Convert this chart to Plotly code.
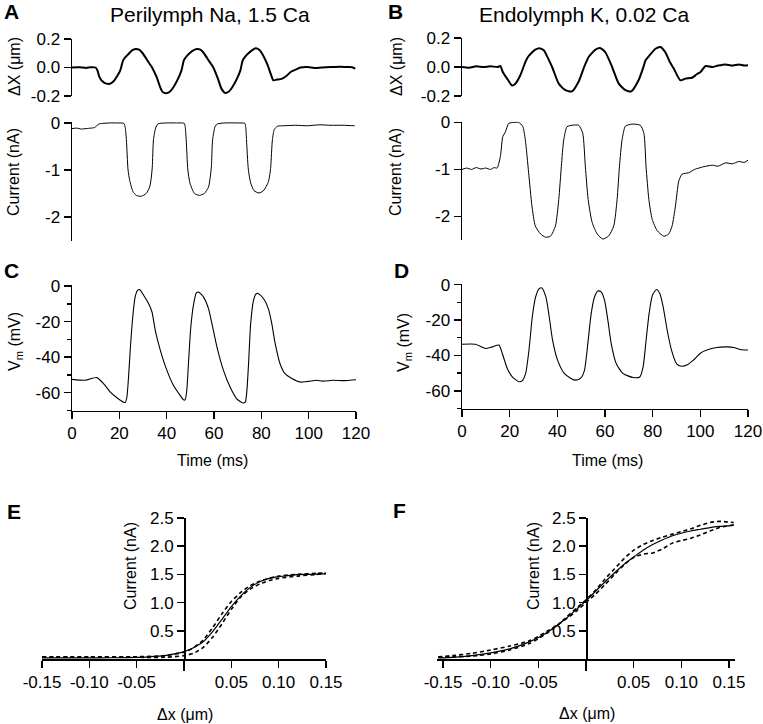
import plotly.graph_objects as go

W, H = 763, 724

# ---------------- DATA ----------------
# Panel A: Perilymph Na, 1.5 Ca
a_dx_t = [0, 3, 6, 8, 10, 10.8, 11.5, 12.5, 13.2, 14, 15.5, 16.5, 18, 19.4, 20.5, 21.7, 22.5, 24, 25.5, 27,
          28.5, 30, 32, 34, 36, 37.5, 38.5, 40, 41.5, 43, 45, 46.5, 47.5, 49, 51, 53, 54.5, 56, 58, 60, 62,
          63.5, 65, 66.5, 68, 70, 71.5, 72.5, 74, 76, 78, 79.5, 81, 83, 84.5, 85.5, 87, 89, 91, 93, 95, 97,
          100, 103, 106, 110, 114, 117, 119, 120.3]
a_dx_v = [0.0, 0.002, -0.003, 0.002, 0.0, -0.02, -0.06, -0.09, -0.1, -0.11, -0.115, -0.112, -0.09, -0.055,
          -0.02, 0.05, 0.07, 0.095, 0.12, 0.13, 0.125, 0.1, 0.05, 0.0, -0.07, -0.14, -0.172, -0.18, -0.17,
          -0.14, -0.08, -0.02, 0.05, 0.085, 0.115, 0.13, 0.125, 0.1, 0.05, 0.0, -0.08, -0.15, -0.178, -0.17,
          -0.14, -0.08, -0.02, 0.05, 0.085, 0.115, 0.135, 0.125, 0.09, 0.02, -0.05, -0.09, -0.085, -0.08,
          -0.06, -0.03, -0.015, 0.0, 0.003, -0.003, 0.0, 0.003, 0.005, 0.003, 0.002, -0.008]

a_i_t = [0, 2, 4, 6, 8, 9.5, 10.5, 11.5, 13, 16, 19, 22, 22.6, 23.1, 23.8, 24.5, 25.9, 27.3, 29.4, 31.5,
         33.0, 33.7, 34.1, 34.6, 35.5, 36.5, 40, 44, 47.7, 48.1, 48.5, 49.2, 50.1, 52.0, 54.1, 56.2, 58.0,
         58.7, 59.2, 59.7, 60.8, 61.8, 65, 70, 73.4, 73.8, 74.1, 74.9, 75.9, 77.3, 79.4, 81.5, 83.4, 84.0,
         84.4, 85.1, 85.9, 87.2, 90, 95, 100, 105, 110, 115, 120]
a_i_v = [-0.12, -0.11, -0.13, -0.12, -0.11, -0.1, -0.06, -0.02, -0.01, 0.0, 0.0, -0.01, -0.1, -0.36, -1.0,
         -1.22, -1.46, -1.54, -1.56, -1.5, -1.36, -1.15, -0.93, -0.36, -0.11, -0.02, 0.0, 0.0, -0.01, -0.1,
         -0.36, -1.0, -1.28, -1.5, -1.54, -1.5, -1.36, -1.15, -0.93, -0.36, -0.07, -0.02, 0.0, 0.0, -0.01,
         -0.1, -0.36, -1.0, -1.28, -1.44, -1.49, -1.43, -1.25, -1.1, -0.93, -0.36, -0.14, -0.07, -0.06,
         -0.05, -0.06, -0.04, -0.05, -0.05, -0.06]

# Panel B: Endolymph K, 0.02 Ca
b_dx_t = [0, 3, 6, 9, 12, 15, 16.2, 17.2, 19, 21.1, 22.5, 24.6, 26.7, 27.8, 29.5, 30.9, 32.6, 34.5, 36, 38,
          40.8, 43.6, 46.4, 49.2, 51.5, 52.7, 53.4, 56.3, 58.4, 60.5, 63.3, 66.1, 68.9, 71.4, 74.5, 76.5,
          77.4, 78.5, 81.6, 83.7, 85.8, 87.5, 89.3, 92.1, 94.2, 97, 99, 100.6, 102.7, 105.5, 108, 111.1,
          113.9, 116.7, 119, 121]
b_dx_v = [0.0, -0.005, 0.005, 0.0, 0.005, 0.0, 0.007, -0.035, -0.08, -0.127, -0.115, -0.057, 0.034, 0.069,
          0.1, 0.12, 0.13, 0.115, 0.07, 0.0, -0.115, -0.16, -0.168, -0.1, 0.0, 0.046, 0.069, 0.12, 0.13,
          0.1, 0.0, -0.115, -0.16, -0.168, -0.09, 0.0, 0.046, 0.069, 0.126, 0.138, 0.1, 0.04, -0.011,
          -0.092, -0.08, -0.074, -0.05, -0.034, 0.007, 0.0, 0.01, 0.018, 0.01, 0.018, 0.01, 0.012]

b_i_t = [0, 2, 4, 6, 8, 10, 12, 13.5, 14.8, 16.2, 17.2, 18.3, 19.7, 21.8, 23.9, 25.6, 26.7, 28.1, 29.5,
         30.9, 33.1, 35.2, 37.3, 39.4, 40.8, 41.9, 42.9, 44.3, 46.4, 49.2, 50.9, 52.0, 53.2, 54.9, 57.0,
         59.4, 61.9, 64.0, 65.4, 66.4, 67.5, 68.9, 71.7, 75.2, 76.7, 77.6, 78.8, 80.2, 82.3, 85.1, 87.2,
         88.6, 90.0, 91.4, 92.8, 95.6, 98, 99.9, 102, 105.5, 108, 111.1, 114, 116.7, 119, 121]
b_i_v = [-1.0, -0.97, -1.0, -0.96, -0.99, -0.97, -1.0, -0.96, -0.97, -0.72, -0.3, -0.2, -0.02, 0.0, 0.0,
         -0.08, -0.37, -1.07, -1.78, -2.2, -2.37, -2.44, -2.42, -2.2, -1.64, -0.93, -0.37, -0.09, -0.06,
         -0.06, -0.23, -0.93, -1.64, -2.13, -2.37, -2.48, -2.41, -2.2, -1.64, -0.93, -0.37, -0.08, -0.035,
         -0.06, -0.23, -0.93, -1.64, -2.06, -2.3, -2.42, -2.37, -2.2, -1.78, -1.25, -1.1, -1.07, -1.0,
         -0.97, -0.94, -0.91, -0.93, -0.86, -0.88, -0.83, -0.85, -0.79]

# Panel C: membrane potential, perilymph
c_t = [0, 5.6, 10.5, 13.4, 16.2, 19, 21.8, 22.5, 23.2, 23.9, 24.6, 25.7, 26.7, 27.7, 28.6, 30.2, 32.4,
       33.8, 35.2, 37.3, 40.1, 42.9, 45.7, 47.1, 47.8, 48.5, 49.2, 50.2, 51.4, 52.5, 53.5, 55.6, 57.7,
       59.1, 61.2, 64, 66.8, 69.6, 72.2, 73.2, 73.9, 74.6, 75.5, 76.7, 77.8, 78.8, 80.9, 83, 84.4, 85.8,
       87.9, 90, 92.9, 96.4, 99.9, 103.4, 106, 110.4, 115, 120]
c_v = [-52.5, -53, -51.5, -55, -59.6, -62.8, -65.3, -65.5, -62.4, -51, -36, -17, -6, -2.4, -2, -5, -10,
       -14.6, -25, -36, -47.4, -55.9, -61.5, -64, -64, -58.7, -43.7, -23, -10, -4, -3.4, -6.2, -12.8, -21,
       -34, -47.4, -56.8, -63.4, -65.8, -65.3, -58.7, -43.7, -21, -8, -4.3, -4.3, -7, -12.8, -21, -32,
       -43.7, -49.3, -52, -54, -53.6, -53, -53.5, -53, -53.2, -52.7]

# Panel D: membrane potential, endolymph
d_t = [0, 5.6, 9.8, 12.7, 15.5, 16.9, 19, 21.1, 23.9, 25.3, 26.7, 28.1, 29.5, 30.9, 32.4, 33.5, 35.2,
       36.6, 38, 40.1, 42.9, 45.7, 47.8, 49.9, 51.4, 52.8, 54.2, 55.6, 57, 58.4, 59.8, 61.2, 62.6, 64.7,
       67.5, 71.8, 74.6, 76, 77.1, 78.5, 79.9, 81.6, 83, 84.4, 86.1, 87.9, 90, 92.1, 94.3, 97.1, 99.9,
       102.7, 106.9, 111.1, 114, 116.8, 120]
d_v = [-33.7, -33.7, -36.1, -35.2, -34.2, -38.9, -47.4, -52.1, -54.9, -54.3, -50.2, -37, -18.2, -7,
       -2.3, -1.9, -7, -18.2, -31.4, -42.7, -50.2, -53, -54, -52.7, -48.3, -33.3, -16.4, -7, -3.6, -4.1,
       -8.8, -20.1, -33.3, -44.6, -50.2, -52.5, -52.2, -46.5, -33.3, -16.4, -6, -2.8, -5.1, -12.6, -25.8,
       -37, -44.6, -46.1, -45.5, -42.7, -38.9, -37, -35.5, -35.2, -35.5, -36.7, -37]

# Panel E: I-X relations, perilymph
e_fit_x = [-0.15, -0.12, -0.09, -0.06, -0.04, -0.03, -0.02, -0.01, 0.0, 0.01, 0.02, 0.03, 0.04, 0.05,
           0.06, 0.07, 0.08, 0.09, 0.10, 0.11, 0.12, 0.13, 0.14, 0.15]
e_fit_y = [0.02, 0.02, 0.02, 0.025, 0.035, 0.045, 0.06, 0.09, 0.13, 0.2, 0.3, 0.48, 0.7, 0.93, 1.12,
           1.27, 1.37, 1.43, 1.46, 1.48, 1.495, 1.5, 1.505, 1.51]
e_d1_x = [-0.15, -0.1, -0.05, -0.02, 0.0, 0.01, 0.02, 0.03, 0.04, 0.05, 0.06, 0.07, 0.08, 0.09, 0.10,
          0.12, 0.14, 0.15]
e_d1_y = [0.03, 0.03, 0.03, 0.03, 0.06, 0.1, 0.2, 0.38, 0.62, 0.88, 1.1, 1.24, 1.33, 1.39, 1.43, 1.47,
          1.5, 1.52]
e_d2_x = [-0.15, -0.1, -0.05, -0.02, 0.0, 0.01, 0.02, 0.03, 0.04, 0.05, 0.06, 0.07, 0.08, 0.09, 0.10,
          0.12, 0.14, 0.15]
e_d2_y = [0.04, 0.04, 0.04, 0.06, 0.12, 0.2, 0.33, 0.55, 0.8, 1.02, 1.18, 1.3, 1.38, 1.43, 1.47, 1.5,
          1.52, 1.53]

# Panel F: I-X relations, endolymph
f_fit_x = [-0.155, -0.14, -0.12, -0.10, -0.08, -0.06, -0.05, -0.04, -0.03, -0.02, -0.01, 0.0, 0.01, 0.02,
           0.03, 0.04, 0.05, 0.06, 0.07, 0.08, 0.09, 0.10, 0.11, 0.12, 0.13, 0.14, 0.155]
f_fit_y = [0.02, 0.03, 0.06, 0.11, 0.18, 0.3, 0.38, 0.48, 0.6, 0.73, 0.88, 1.03, 1.2, 1.37, 1.53, 1.68,
           1.81, 1.93, 2.03, 2.11, 2.18, 2.23, 2.27, 2.3, 2.33, 2.35, 2.37]
f_d1_y = [0.03, 0.04, 0.05, 0.09, 0.16, 0.27, 0.36, 0.47, 0.6, 0.75, 0.9, 1.05, 1.22, 1.42, 1.6, 1.78,
          1.93, 2.03, 2.1, 2.16, 2.21, 2.26, 2.31, 2.37, 2.42, 2.44, 2.42]
f_d2_y = [0.04, 0.06, 0.1, 0.16, 0.23, 0.32, 0.4, 0.5, 0.6, 0.72, 0.85, 1.0, 1.15, 1.32, 1.5, 1.67, 1.8,
          1.86, 1.88, 1.95, 2.05, 2.1, 2.14, 2.2, 2.27, 2.33, 2.38]

# tick labels
dx_ticks = [0.2, 0.0, -0.2]
dx_ticktext = ["0.2", "0.0", "-0.2"]
i_ticks = [0, -1, -2]
i_ticktext = ["0", "-1", "-2"]
v_ticks = [0, -20, -40, -60]
v_ticktext = ["0", "-20", "-40", "-60"]
v_minor = [-10, -30, -50, -70]
t_ticks = [0, 20, 40, 60, 80, 100, 120]
t_ticktext = ["0", "20", "40", "60", "80", "100", "120"]
ix_xticks = [-0.15, -0.10, -0.05, 0.05, 0.10, 0.15]
ix_xticktext = ["-0.15", "-0.10", "-0.05", "0.05", "0.10", "0.15"]
ix_xzero = [0.0]
ix_yticks = [0.5, 1.0, 1.5, 2.0, 2.5]
ix_yticktext = ["0.5", "1.0", "1.5", "2.0", "2.5"]

# ---------------- LAYOUT HELPERS ----------------
FONT = "Liberation Sans, Arial, sans-serif"
TICKFONT = dict(family=FONT, size=17, color="black")


def px_x(p):
    return p / W


def px_y(p):
    return 1 - p / H


def dom_y(top, bottom):
    return [px_y(bottom), px_y(top)]


fig = go.Figure()

black = "black"
SM = 0.6


def trace(x, y, xa, ya, width, dash=None):
    fig.add_trace(go.Scatter(x=x, y=y, xaxis=xa, yaxis=ya, mode="lines", hoverinfo="skip",
                             line=dict(color=black, width=width, dash=dash, shape="spline",
                                       smoothing=SM)))


trace(a_dx_t, a_dx_v, "x", "y", 2)
trace(a_i_t, a_i_v, "x2", "y2", 1)
trace(c_t, c_v, "x3", "y3", 1.1)
trace(b_dx_t, b_dx_v, "x4", "y4", 2)
trace(b_i_t, b_i_v, "x5", "y5", 1)
trace(d_t, d_v, "x6", "y6", 1.1)

dash = "4px,3px"
trace(e_fit_x, e_fit_y, "x7", "y7", 1.2)
trace(e_d1_x, e_d1_y, "x7", "y7", 1.6, dash)
trace(e_d2_x, e_d2_y, "x7", "y7", 1.6, dash)
trace(f_fit_x, f_fit_y, "x8", "y8", 1.2)
trace(f_fit_x, f_d1_y, "x8", "y8", 1.6, dash)
trace(f_fit_x, f_d2_y, "x8", "y8", 1.6, dash)

axcommon = dict(showgrid=False, zeroline=False, showline=True, linecolor=black, linewidth=1.5,
                ticks="outside", ticklen=7, tickwidth=1.5, tickcolor=black, tickfont=TICKFONT,
                fixedrange=True, automargin=False)

left_dom = [px_x(72), px_x(356)]
right_dom = [px_x(462), px_x(748)]
trange = [0, 120.6]
vminor = dict(tickvals=v_minor, ticks="outside", ticklen=4, tickwidth=1.5, tickcolor=black)
zminor = dict(tickvals=ix_xzero, ticks="outside", ticklen=10, tickwidth=1.5, tickcolor=black)

layout = dict(
    width=W, height=H, margin=dict(l=0, r=0, t=0, b=0, pad=0, autoexpand=False),
    paper_bgcolor="white", plot_bgcolor="white", showlegend=False,
    font=dict(family=FONT, size=16, color=black),
    # A
    xaxis=dict(domain=left_dom, range=trange, visible=False, anchor="y"),
    yaxis=dict(domain=dom_y(39, 96), range=[-0.2, 0.2], anchor="x", tickvals=dx_ticks,
               ticktext=dx_ticktext, **axcommon),
    xaxis2=dict(domain=left_dom, range=trange, visible=False, anchor="y2"),
    yaxis2=dict(domain=dom_y(122, 240.5), range=[-2.5, 0.02], anchor="x2", tickvals=i_ticks,
                ticktext=i_ticktext, **axcommon),
    # C
    xaxis3=dict(domain=left_dom, range=[0, 120], anchor="y3", tickvals=t_ticks, ticktext=t_ticktext,
                **axcommon),
    yaxis3=dict(domain=dom_y(285, 410.5), range=[-70, 0.6], anchor="x3", tickvals=v_ticks,
                ticktext=v_ticktext, minor=vminor, **axcommon),
    # B
    xaxis4=dict(domain=right_dom, range=trange, visible=False, anchor="y4"),
    yaxis4=dict(domain=dom_y(38, 96), range=[-0.2, 0.2], anchor="x4", tickvals=dx_ticks,
                ticktext=dx_ticktext, **axcommon),
    xaxis5=dict(domain=right_dom, range=trange, visible=False, anchor="y5"),
    yaxis5=dict(domain=dom_y(121.5, 240), range=[-2.5, 0.02], anchor="x5", tickvals=i_ticks,
                ticktext=i_ticktext, **axcommon),
    # D
    xaxis6=dict(domain=right_dom, range=[0, 120], anchor="y6", tickvals=t_ticks, ticktext=t_ticktext,
                **axcommon),
    yaxis6=dict(domain=dom_y(283.5, 408.5), range=[-70, 0.6], anchor="x6", tickvals=v_ticks,
                ticktext=v_ticktext, minor=vminor, **axcommon),
    # E
    xaxis7=dict(domain=[px_x(42), px_x(326)], range=[-0.15, 0.15], anchor="y7", tickvals=ix_xticks,
                ticktext=ix_xticktext, minor=zminor, **axcommon),
    yaxis7=dict(domain=dom_y(518, 659), range=[0, 2.5], anchor="free", position=px_x(184),
                tickvals=ix_yticks, ticktext=ix_yticktext, **axcommon),
    # F
    xaxis8=dict(domain=[px_x(437.3), px_x(734.7)], range=[-0.156, 0.156], anchor="y8",
                tickvals=ix_xticks, ticktext=ix_xticktext, minor=zminor, **axcommon),
    yaxis8=dict(domain=dom_y(518, 659), range=[0, 2.5], anchor="free", position=px_x(586),
                tickvals=ix_yticks, ticktext=ix_yticktext, **axcommon),
)
fig.update_layout(**layout)

annots = []


def ann(text, x, y, size=16, bold=False, angle=0):
    t = f"<b>{text}</b>" if bold else text
    annots.append(dict(text=t, x=px_x(x), y=px_y(y), xref="paper", yref="paper", showarrow=False,
                       xanchor="center", yanchor="middle", textangle=angle,
                       font=dict(family=FONT, size=size, color=black)))


# panel letters
ann("A", 11, 12, size=21, bold=True)
ann("B", 395, 12, size=21, bold=True)
ann("C", 11, 270, size=21, bold=True)
ann("D", 401, 270, size=21, bold=True)
ann("E", 14, 511, size=21, bold=True)
ann("F", 399, 510, size=21, bold=True)
# titles
ann("Perilymph Na, 1.5 Ca", 210, 14, size=21)
ann("Endolymph K, 0.02 Ca", 584, 14, size=21)
# y titles
ann("ΔX (μm)", 14, 67, angle=-90)
ann("Current (nA)", 14, 172, angle=-90)
ann("ΔX (μm)", 396, 67, angle=-90)
ann("Current (nA)", 396, 172, angle=-90)
ann("V<sub>m</sub> (mV)", 16, 342, angle=-90)
ann("V<sub>m</sub> (mV)", 404, 343, angle=-90)
ann("Current (nA)", 130, 566, angle=-90)
ann("Current (nA)", 533, 566, angle=-90)
# x titles
ann("Time (ms)", 213, 460)
ann("Time (ms)", 607, 460)
ann("Δx (μm)", 185, 714)
ann("Δx (μm)", 587, 713)

fig.update_layout(annotations=annots)
fig.write_html("out.html", config={"displayModeBar": False, "staticPlot": True},
               post_script="document.body.style.margin='0px';document.body.style.padding='0px';")
